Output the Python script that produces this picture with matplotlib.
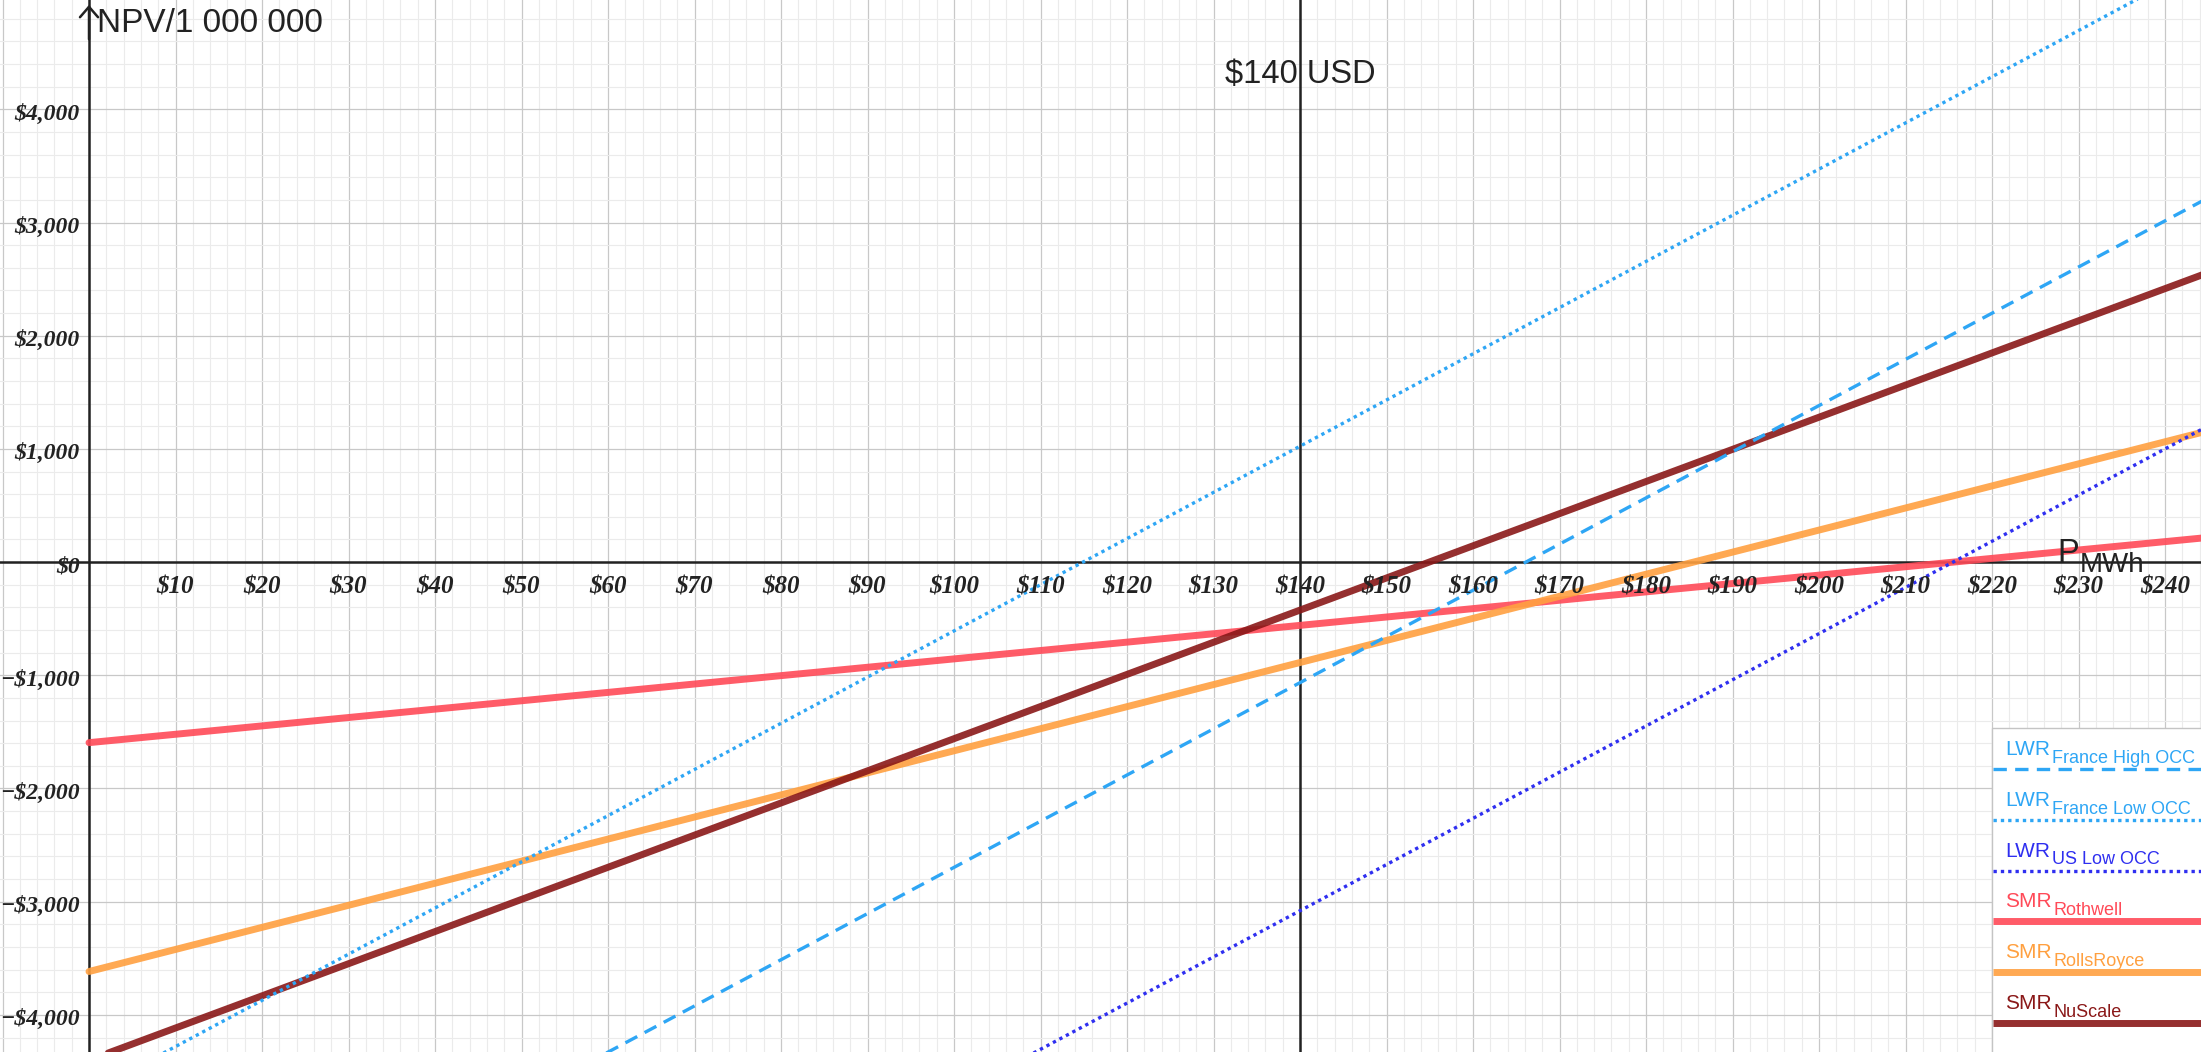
"""NPV of reactor options vs. electricity price, drawn in a Desmos-like style."""

import matplotlib.pyplot as plt
import matplotlib.patches as mpatches
from matplotlib.lines import Line2D

W, H, DPI = 2201, 1052, 100

# ---------------------------------------------------------------------------
# Data (NPV / 1 000 000 USD at these prices)
# ---------------------------------------------------------------------------
price = [0, 140, 250]

lwr_france_high = [-6777, -1065, 3423]
lwr_france_low = [-4688, 1024, 5512]
lwr_us_low = [-8792, -3080, 1408]
smr_rothwell = [-1595, -559, 255]
smr_rollsroyce = [-3617, -887, 1258]
smr_nuscale = [-4400, -424, 2700]

x_tick_values = list(range(10, 250, 10))
x_tick_labels = [f"${v}" for v in x_tick_values]
y_tick_values = list(range(-4000, 5000, 1000))
y_tick_labels = [("\u2212" if v < 0 else "") + f"${abs(v):,}" for v in y_tick_values]

marker_price = 140

# (values, name, subscript, colour, linestyle, linewidth, alpha)
series = [
    (lwr_france_high, "LWR", "France High OCC", "#2ea6f5", (0, (4, 2.5)), 2.4, 1.0),
    (lwr_france_low, "LWR", "France Low OCC", "#2ea6f5", (0, (1, 1.2)), 2.4, 1.0),
    (lwr_us_low, "LWR", "US Low OCC", "#2f2ff0", (0, (1, 1.2)), 2.4, 1.0),
    (smr_rothwell, "SMR", "Rothwell", "#ff4a58", "-", 5.0, 0.9),
    (smr_rollsroyce, "SMR", "RollsRoyce", "#ffa040", "-", 5.0, 0.9),
    (smr_nuscale, "SMR", "NuScale", "#8a1818", "-", 5.0, 0.9),
]

# ---------------------------------------------------------------------------
# Figure: axes fill the whole canvas, like the graphing-calculator export
# ---------------------------------------------------------------------------
fig = plt.figure(figsize=(W / DPI, H / DPI), dpi=DPI)
ax = fig.add_axes([0, 0, 1, 1])
for s in ax.spines.values():
    s.set_visible(False)

ax.set_xticks(range(-10, 250, 10))
ax.set_xticks(range(-10, 250, 2), minor=True)
ax.set_yticks(range(-5000, 5001, 1000))
ax.set_yticks(range(-5000, 5001, 200), minor=True)
# limits after the ticks, otherwise set_*ticks widens them
ax.set_xlim(-10.29, 244.16)
ax.set_ylim(-4328, 4966)
ax.tick_params(which="both", length=0, labelbottom=False, labelleft=False)
ax.grid(which="major", color="#c8c8c8", lw=0.9, zorder=0)
ax.grid(which="minor", color="#ebebeb", lw=0.8, zorder=0)
ax.set_axisbelow(True)

# axes lines
ax.axhline(0, color="#222222", lw=1.8, zorder=3)
ax.axvline(0, color="#222222", lw=1.8, zorder=3)
ax.axvline(marker_price, color="#222222", lw=1.8, zorder=3)
ax.annotate(
    "", xy=(0, 0.998), xycoords=("data", "axes fraction"),
    xytext=(0, 0.96), textcoords=("data", "axes fraction"),
    arrowprops=dict(arrowstyle="->,head_length=0.75,head_width=0.65",
                    color="#222222", lw=1.8),
    zorder=4,
)

# series
for vals, name, sub, color, ls, lw, alpha in series[3:] + series[:3]:
    ax.plot(price, vals, color=color, ls=ls, lw=lw, alpha=alpha,
            solid_capstyle="round", zorder=5)

# tick labels
tick_font = dict(family="Liberation Serif", weight="bold", style="italic",
                 color="#222222", parse_math=False, zorder=10)
for v, lab in zip(x_tick_values, x_tick_labels):
    ax.annotate(lab, xy=(v, 0), xytext=(0, -22.3), textcoords="offset points",
                ha="center", va="baseline", size=18, **tick_font)
for v, lab in zip(y_tick_values, y_tick_labels):
    ax.annotate(lab, xy=(0, v), xytext=(-6.8, -7.5), textcoords="offset points",
                ha="right", va="baseline", size=17, **tick_font)

sans = dict(family="Liberation Sans", color="#222222", parse_math=False, zorder=10)
ax.text(97 / W, 1 - 32 / H, "NPV/1 000 000", transform=ax.transAxes,
        fontsize=24, va="baseline", **sans)
ax.annotate(f"${marker_price} USD", xy=(marker_price, 1), xycoords=("data", "axes fraction"),
            xytext=(0, -60), textcoords="offset points",
            ha="center", va="baseline", fontsize=23.5, **sans)
p = ax.annotate("P", xy=(227.5, 0), xytext=(0, 0), textcoords="offset points",
                ha="left", va="baseline", fontsize=23.5, **sans)
ax.annotate("MWh", xy=(1, 0), xycoords=p, xytext=(0.5, -2.4), textcoords="offset points",
            ha="left", va="baseline", fontsize=20, **sans)

# legend box, bottom right
box_left, box_top = 1992 / W, 1 - 728 / H
ax.add_patch(mpatches.Rectangle((box_left, -0.01), 1.02 - box_left, box_top + 0.01,
                                transform=ax.transAxes, facecolor="white",
                                edgecolor="#c4c4c4", lw=1.0, zorder=20))
for i, (vals, name, sub, color, ls, lw, alpha) in enumerate(series):
    ly = 769 + 50.8 * i
    ax.add_line(Line2D([1993 / W, 1], [1 - ly / H] * 2, transform=ax.transAxes,
                       color=color, ls=ls, lw=lw, alpha=alpha,
                       solid_capstyle="butt", zorder=21))
    t = ax.text(2005 / W, 1 - (ly - 14) / H, name, transform=ax.transAxes,
                fontsize=15, color=color, va="baseline",
                family="Liberation Sans", zorder=22)
    ax.annotate(sub, xy=(1, 0), xycoords=t, xytext=(1.2, -2.7),
                textcoords="offset points", fontsize=13, color=color,
                va="baseline", family="Liberation Sans", zorder=22)

fig.savefig("out.png", dpi=DPI)
